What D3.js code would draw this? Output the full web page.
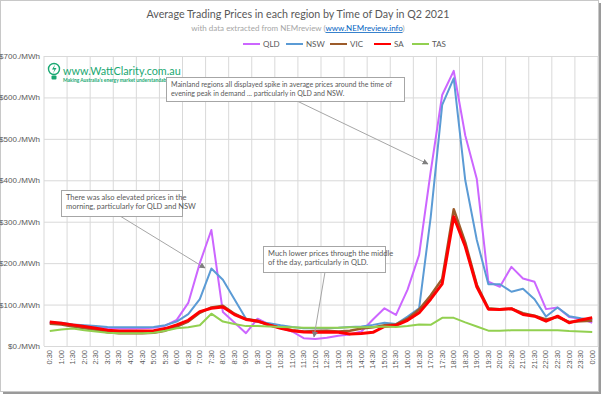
<!DOCTYPE html>
<html>
<head>
<meta charset="utf-8">
<script src="https://cdn.jsdelivr.net/npm/d3@7"></script>
<style>
    body { margin: 0; background: #fff; }
    svg { display: block; font-family: Lato, "Open Sans", sans-serif; }
</style>
</head>
<body>
<div id="chart"></div>
<script>
// Half-hour trading intervals (end of interval), 0:30 .. 0:00
const categories = ['0:30', '1:00', '1:30', '2:00', '2:30', '3:00', '3:30', '4:00', '4:30', '5:00', '5:30', '6:00',
    '6:30', '7:00', '7:30', '8:00', '8:30', '9:00', '9:30', '10:00', '10:30', '11:00', '11:30', '12:00',
    '12:30', '13:00', '13:30', '14:00', '14:30', '15:00', '15:30', '16:00', '16:30', '17:00', '17:30', '18:00',
    '18:30', '19:00', '19:30', '20:00', '20:30', '21:00', '21:30', '22:00', '22:30', '23:00', '23:30', '0:00'];

const qld = [57, 55, 50, 47, 45, 43, 42, 42, 43, 44, 49, 63, 104, 200, 280, 82, 57, 31, 66, 52, 44, 35, 19, 17,
    20, 25, 28, 35, 64, 91, 75, 136, 220, 420, 606, 664, 508, 403, 155, 143, 191, 163, 155, 89, 93, 70, 66, 56];
const nsw = [57, 56, 52, 50, 48, 46, 45, 45, 45, 46, 50, 59, 77, 113, 187, 160, 113, 66, 58, 55, 50, 46, 43, 43,
    43, 44, 46, 47, 51, 56, 53, 71, 91, 310, 582, 646, 400, 256, 149, 149, 131, 138, 113, 71, 93, 72, 67, 63];
const vic = [54, 52, 47, 43, 39, 33, 31, 31, 31, 32, 37, 47, 59, 80, 93, 97, 78, 65, 61, 50, 44, 38, 35, 36,
    37, 35, 37, 42, 45, 50, 52, 66, 88, 122, 162, 330, 250, 148, 91, 89, 90, 79, 73, 64, 70, 58, 60, 61];
const sa = [58, 55, 51, 47, 43, 38, 36, 36, 36, 37, 42, 51, 62, 83, 91, 94, 76, 64, 60, 51, 43, 37, 34, 33,
    34, 33, 29, 30, 33, 47, 50, 62, 80, 113, 150, 312, 240, 143, 89, 88, 90, 76, 72, 60, 72, 56, 63, 68];
const tas = [36, 40, 42, 38, 35, 32, 31, 31, 31, 32, 37, 43, 45, 50, 78, 59, 53, 48, 48, 47, 46, 45, 44, 44,
    44, 44, 45, 45, 46, 47, 46, 48, 52, 51, 68, 68, 57, 47, 37, 37, 38, 38, 38, 38, 38, 36, 35, 34];

const yTicks = [0, 100, 200, 300, 400, 500, 600, 700];

(function () {
    const COLORS = {
        QLD: '#cc66ff',
        NSW: '#5b9bd5',
        VIC: '#9c5b2a',
        SA: '#ff0000',
        TAS: '#92d050',
        grid: '#d9d9d9',
        text: '#595959',
        brand: '#19a872'
    };

    const series = [
        { key: 'QLD', values: qld, width: 2 },
        { key: 'NSW', values: nsw, width: 2 },
        { key: 'VIC', values: vic, width: 2.5 },
        { key: 'SA', values: sa, width: 3 },
        { key: 'TAS', values: tas, width: 2 }
    ];

    const W = 604, H = 397;
    const plot = { left: 44, right: 598, top: 56, bottom: 346 };

    const svg = d3.select('#chart').append('svg')
        .attr('width', W)
        .attr('height', H);

    // frame with a soft shadow, like the pasted screenshot
    svg.append('rect').attr('x', 3).attr('y', 3).attr('width', 598).attr('height', 391).attr('fill', '#9a9a9a');
    svg.append('rect').attr('x', 0.5).attr('y', 0.5).attr('width', 598).attr('height', 391)
        .attr('fill', '#fff').attr('stroke', '#c8c8c8');

    const x = d3.scaleBand()
        .domain(categories)
        .range([plot.left, plot.right]);
    const cx = d => x(d) + x.bandwidth() / 2;

    const y = d3.scaleLinear()
        .domain([0, 700])
        .range([plot.bottom, plot.top]);

    // horizontal gridlines + y labels
    const yAxis = d3.axisLeft(y)
        .tickValues(yTicks)
        .tickSize(-(plot.right - plot.left))
        .tickPadding(4)
        .tickFormat(d => `$${d}./MWh`);

    const gy = svg.append('g')
        .attr('transform', `translate(${plot.left},0)`)
        .call(yAxis);
    gy.select('.domain').remove();
    gy.selectAll('line').attr('stroke', COLORS.grid);
    gy.selectAll('text').attr('fill', COLORS.text).style('font-size', '8px');

    // vertical gridlines every second category boundary
    const bounds = categories.filter((c, i) => i % 2 === 0).map(c => x(c)).concat([plot.right]);
    svg.append('g').selectAll('line')
        .data(bounds)
        .enter()
        .append('line')
        .attr('x1', d => d).attr('x2', d => d)
        .attr('y1', plot.top).attr('y2', plot.bottom)
        .attr('stroke', COLORS.grid);

    // x axis labels, rotated
    const xAxis = d3.axisBottom(x).tickSize(0).tickPadding(0);
    const gx = svg.append('g')
        .attr('transform', `translate(0,${plot.bottom})`)
        .call(xAxis);
    gx.select('.domain').attr('stroke', COLORS.grid);
    gx.selectAll('text')
        .attr('fill', COLORS.text)
        .style('font-size', '7.5px')
        .attr('transform', 'rotate(-90)')
        .attr('x', -4)
        .attr('y', 0)
        .attr('dy', '0.32em')
        .style('text-anchor', 'end');

    // series lines
    const line = d3.line()
        .x((d, i) => cx(categories[i]))
        .y(d => y(d));

    svg.append('g').selectAll('path')
        .data(series)
        .enter()
        .append('path')
        .attr('fill', 'none')
        .attr('stroke', d => COLORS[d.key])
        .attr('stroke-width', d => d.width)
        .attr('stroke-linejoin', 'round')
        .attr('d', d => line(d.values));

    // titles
    svg.append('text')
        .attr('x', 298).attr('y', 18)
        .attr('text-anchor', 'middle')
        .attr('fill', COLORS.text)
        .style('font-size', '10.7px')
        .text('Average Trading Prices in each region by Time of Day in Q2 2021');

    const sub = svg.append('text')
        .attr('x', 298).attr('y', 31)
        .attr('text-anchor', 'middle')
        .attr('fill', '#a6a6a6')
        .style('font-size', '8px');
    sub.append('tspan').text('with data extracted from NEMreview (');
    sub.append('tspan').attr('fill', '#0563c1').style('text-decoration', 'underline').text('www.NEMreview.info');
    sub.append('tspan').text(')');

    // legend
    const legend = svg.append('g').attr('transform', 'translate(243,44)');
    const legendX = [0, 43, 87, 131, 169];
    const item = legend.selectAll('g')
        .data(series)
        .enter()
        .append('g')
        .attr('transform', (d, i) => `translate(${legendX[i]},0)`);
    item.append('line')
        .attr('x1', 0).attr('x2', 17)
        .attr('stroke', d => COLORS[d.key])
        .attr('stroke-width', 2);
    item.append('text')
        .attr('x', 20).attr('dy', '0.35em')
        .attr('fill', COLORS.text)
        .style('font-size', '8px')
        .text(d => d.key);

    // WattClarity logo
    const logo = svg.append('g');
    logo.append('circle').attr('cx', 54).attr('cy', 69).attr('r', 5.5)
        .attr('fill', 'none').attr('stroke', COLORS.brand).attr('stroke-width', 1.4);
    logo.append('path').attr('d', 'M55,64.5 L52,69.5 L54.5,69.5 L53,73.5 L56.5,68 L54,68 Z').attr('fill', COLORS.brand);
    logo.append('rect').attr('x', 51.5).attr('y', 75.5).attr('width', 5).attr('height', 4).attr('rx', 1).attr('fill', COLORS.brand);
    logo.append('text').attr('x', 63).attr('y', 75)
        .attr('fill', COLORS.brand).style('font-size', '10.8px')
        .text('www.WattClarity.com.au');
    logo.append('text').attr('x', 63).attr('y', 81.5)
        .attr('fill', COLORS.brand).style('font-size', '4.9px').style('font-weight', 'bold')
        .text('Making Australia\u2019s energy market understandable');

    // annotations
    const defs = svg.append('defs');
    defs.append('marker')
        .attr('id', 'arrow')
        .attr('viewBox', '0 0 10 10')
        .attr('refX', 9).attr('refY', 5)
        .attr('markerWidth', 6).attr('markerHeight', 6)
        .attr('orient', 'auto')
        .append('path').attr('d', 'M0,0 L10,5 L0,10 Z').attr('fill', '#7f7f7f');

    const notes = [
        { x: 166, y: 77, w: 238, h: 24, size: 7, lines: ['Mainland regions all displayed spike in average prices around the time of',
            'evening peak in demand ... particularly in QLD and NSW.'], from: [297, 101], to: [428, 164] },
        { x: 61, y: 190, w: 121, h: 26, size: 7.5, lines: ['There was also elevated prices in the',
            'morning, particularly for QLD and NSW'], from: [120, 216], to: [205, 268] },
        { x: 263, y: 246, w: 122, h: 26, size: 7.5, lines: ['Much lower prices through the middle',
            'of the day, particularly in QLD.'], from: [325, 272], to: [314, 337] }
    ];

    const note = svg.append('g').selectAll('g')
        .data(notes)
        .enter()
        .append('g');
    note.append('line')
        .attr('x1', d => d.from[0]).attr('y1', d => d.from[1])
        .attr('x2', d => d.to[0]).attr('y2', d => d.to[1])
        .attr('stroke', '#a6a6a6')
        .attr('marker-end', 'url(#arrow)');
    note.append('rect')
        .attr('x', d => d.x + 0.5).attr('y', d => d.y + 0.5)
        .attr('width', d => d.w).attr('height', d => d.h)
        .attr('fill', '#fff').attr('stroke', '#a6a6a6');
    note.each(function (d) {
        const t = d3.select(this).append('text')
            .attr('fill', COLORS.text)
            .style('font-size', d.size + 'px');
        d.lines.forEach((s, i) => {
            t.append('tspan').attr('x', d.x + 5).attr('y', d.y + 9.5 + i * 9).text(s);
        });
    });
})();
</script>
</body>
</html>
